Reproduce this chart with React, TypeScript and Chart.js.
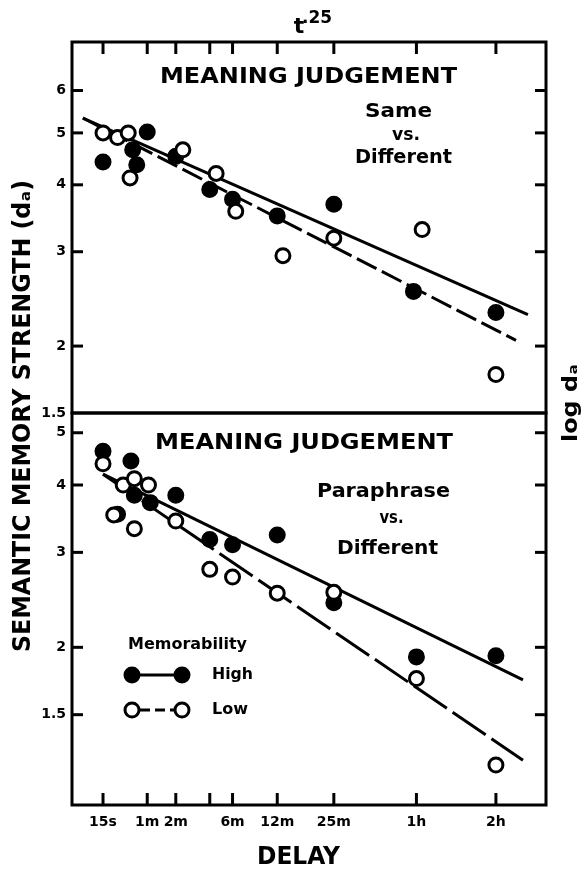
import React, { useEffect, useRef } from 'react';
import { Chart, LinearScale, registerables } from 'chart.js';

Chart.register(...registerables);

// x axis drawn on a t^0.25 scale (delay in seconds)
class FourthRootScale extends LinearScale {
  static id = 'fourthRoot';
  static defaults = {};
  getPixelForValue(value: number) {
    const a = Math.pow(this.min, 0.25);
    const b = Math.pow(this.max, 0.25);
    return this.getPixelForDecimal((Math.pow(value, 0.25) - a) / (b - a));
  }
  getValueForPixel(pixel: number) {
    const a = Math.pow(this.min, 0.25);
    const b = Math.pow(this.max, 0.25);
    return Math.pow(a + this.getDecimalForPixel(pixel) * (b - a), 4);
  }
}
Chart.register(FourthRootScale);

// ---------------- data ----------------
const xTickSeconds = [15, 60, 120, 240, 360, 720, 1500, 3600, 7200];
const xTickLabels = ['15s', '1m', '2m', '', '6m', '12m', '25m', '1h', '2h'];
const topYTicks = [1.5, 2, 3, 4, 5, 6];
const bottomYTicks = [1.5, 2, 3, 4, 5];

// Top panel: Same vs. Different
const sameHighDelay = [15, 40, 45, 60, 120, 240, 360, 720, 1500, 3500, 7200];
const sameHighDa = [4.41, 4.65, 4.36, 5.02, 4.52, 3.92, 3.76, 3.5, 3.68, 2.53, 2.31];
const sameLowDelay = [15, 25, 35, 37, 140, 270, 380, 780, 1500, 3800, 7200];
const sameLowDa = [5.0, 4.9, 5.0, 4.12, 4.65, 4.2, 3.57, 2.95, 3.18, 3.3, 1.77];
const sameHighFitDelay = [6.5, 9230];
const sameHighFitDa = [5.33, 2.29];
const sameLowFitDelay = [6.5, 8430];
const sameLowFitDa = [5.33, 2.05];

// Bottom panel: Paraphrase vs. Different
const paraHighDelay = [15, 38, 25, 42, 65, 120, 240, 360, 720, 1500, 3600, 7200];
const paraHighDa = [4.62, 4.43, 3.53, 3.83, 3.71, 3.83, 3.17, 3.1, 3.23, 2.42, 1.92, 1.93];
const paraLowDelay = [15, 22, 30, 42, 62, 42, 120, 240, 360, 720, 1500, 3600, 7200];
const paraLowDa = [4.38, 3.52, 4.0, 4.11, 4.0, 3.32, 3.43, 2.79, 2.7, 2.52, 2.53, 1.75, 1.21];
const paraHighFitDelay = [15, 8890];
const paraHighFitDa = [4.19, 1.74];
const paraLowFitDelay = [15, 8890];
const paraLowFitDa = [4.19, 1.235];

// axis ranges
const X_MIN = 3.8;
const X_MAX = 10550;
const TOP_Y_MIN = 1.5;
const TOP_Y_MAX = 7.39;
const BOT_Y_MIN = 1.02;
const BOT_Y_MAX = 5.44;

// ---------------- layout ----------------
const W = 584;
const H = 874;
const F_LEFT = 72;
const F_RIGHT = 546;
const F_TOP = 42;
const F_MID = 413;
const F_BOTTOM = 805;
const FONT = '"DejaVu Sans", "Liberation Sans", sans-serif';

function drawText(ctx: CanvasRenderingContext2D, text: string, cx: number, cy: number, size: number, width?: number, rot = 0) {
  ctx.save();
  ctx.font = `bold ${size}px ${FONT}`;
  ctx.fillStyle = '#000';
  ctx.textAlign = 'center';
  ctx.textBaseline = 'middle';
  ctx.translate(cx, cy);
  if (rot) ctx.rotate(rot);
  if (width) {
    const w = ctx.measureText(text).width;
    ctx.scale(width / w, 1);
  }
  ctx.fillText(text, 0, 0);
  ctx.restore();
}

function seg(ctx: CanvasRenderingContext2D, x1: number, y1: number, x2: number, y2: number) {
  ctx.beginPath();
  ctx.moveTo(x1, y1);
  ctx.lineTo(x2, y2);
  ctx.stroke();
}

const pts = (xs: number[], ys: number[]) => xs.map((x, i) => ({ x, y: ys[i] }));

function makeDatasets(hx: number[], hy: number[], lx: number[], ly: number[], hfx: number[], hfy: number[], lfx: number[], lfy: number[], dash: number[]) {
  return [
    {
      label: 'Low',
      data: pts(lx, ly),
      showLine: false,
      pointRadius: 7,
      pointBorderWidth: 3,
      borderColor: '#000',
      backgroundColor: '#fff',
      pointBackgroundColor: '#fff',
      order: 0,
    },
    {
      label: 'High',
      data: pts(hx, hy),
      showLine: false,
      pointRadius: 7,
      pointBorderWidth: 3,
      borderColor: '#000',
      backgroundColor: '#000',
      pointBackgroundColor: '#000',
      order: 1,
    },
    {
      label: 'High fit',
      data: pts(hfx, hfy),
      showLine: true,
      borderColor: '#000',
      borderWidth: 3,
      pointRadius: 0,
      tension: 0,
      order: 2,
    },
    {
      label: 'Low fit',
      data: pts(lfx, lfy),
      showLine: true,
      borderColor: '#000',
      borderWidth: 3,
      borderDash: dash,
      pointRadius: 0,
      tension: 0,
      order: 3,
    },
  ];
}

function yAxis(min: number, max: number, ticks: number[]) {
  return {
    type: 'logarithmic',
    position: 'left',
    min,
    max,
    afterBuildTicks: (axis: any) => {
      axis.ticks = ticks.map((v) => ({ value: v }));
    },
    afterFit: (s: any) => {
      s.width = F_LEFT;
    },
    grid: { display: false, drawTicks: false },
    border: { display: false },
    ticks: {
      padding: 6,
      color: '#000',
      autoSkip: false,
      font: { family: FONT, weight: 'bold', size: 14 },
      callback: (v: any) => String(v),
    },
  };
}

function frameAndTicks(chart: any, panel: 'top' | 'bottom') {
  const { ctx, chartArea, scales } = chart;
  const { left, right, top, bottom } = chartArea;
  ctx.save();
  ctx.strokeStyle = '#000';
  ctx.lineWidth = 3;
  ctx.lineCap = 'butt';
  ctx.strokeRect(left, top, right - left, bottom - top);
  const yt = panel === 'top' ? topYTicks.filter((v) => v > TOP_Y_MIN) : bottomYTicks;
  yt.forEach((v) => {
    const py = scales.y.getPixelForValue(v);
    seg(ctx, left, py, left + 11, py);
    seg(ctx, right - 11, py, right, py);
  });
  xTickSeconds.forEach((v) => {
    const px = scales.x.getPixelForValue(v);
    if (panel === 'top') seg(ctx, px, top, px, top + 12);
    else seg(ctx, px, bottom - 12, px, bottom);
  });
  ctx.restore();
}

const topDecor = {
  id: 'topDecor',
  afterDraw(chart: any) {
    const ctx = chart.ctx as CanvasRenderingContext2D;
    frameAndTicks(chart, 'top');
    drawText(ctx, 'MEANING JUDGEMENT', 308.5, 77, 22, 297);
    drawText(ctx, 'Same', 398.5, 112, 20, 67);
    drawText(ctx, 'vs.', 406, 135, 18, 28);
    drawText(ctx, 'Different', 403.5, 158, 20, 97);
    // t^.25 label above the plot
    drawText(ctx, 't', 299, 27, 22);
    ctx.save();
    ctx.font = `bold 17px ${FONT}`;
    ctx.textAlign = 'left';
    ctx.textBaseline = 'middle';
    ctx.fillStyle = '#000';
    ctx.fillText('.25', 302, 19);
    ctx.restore();
  },
};

const bottomDecor = {
  id: 'bottomDecor',
  afterDraw(chart: any) {
    const ctx = chart.ctx as CanvasRenderingContext2D;
    frameAndTicks(chart, 'bottom');
    drawText(ctx, 'MEANING JUDGEMENT', 304, 443, 22, 298);
    drawText(ctx, 'Paraphrase', 383.5, 492, 20, 133);
    drawText(ctx, 'vs.', 391.5, 518, 18, 24);
    drawText(ctx, 'Different', 387.5, 549, 20, 101);

    // legend
    drawText(ctx, 'Memorability', 187.5, 645, 16, 119);
    drawText(ctx, 'High', 232.5, 675, 16, 41);
    drawText(ctx, 'Low', 230, 710, 16, 36);
    ctx.save();
    ctx.strokeStyle = '#000';
    ctx.lineWidth = 3;
    seg(ctx, 132, 675, 182, 675);
    ctx.setLineDash([10, 5]);
    seg(ctx, 140, 710, 175, 710);
    ctx.setLineDash([]);
    [132, 182].forEach((cx) => {
      ctx.beginPath();
      ctx.arc(cx, 675, 7, 0, Math.PI * 2);
      ctx.fillStyle = '#000';
      ctx.fill();
      ctx.stroke();
      ctx.beginPath();
      ctx.arc(cx, 710, 7, 0, Math.PI * 2);
      ctx.fillStyle = '#fff';
      ctx.fill();
      ctx.stroke();
    });
    ctx.restore();

    // axis titles
    drawText(ctx, 'SEMANTIC MEMORY STRENGTH (dₐ)', 23, 416, 25, 472, -Math.PI / 2);
    drawText(ctx, 'log dₐ', 571, 403, 22, 78, -Math.PI / 2);
    drawText(ctx, 'DELAY', 298.5, 858, 24, 83);
  },
};

function topConfig(): any {
  return {
    type: 'scatter',
    data: {
      datasets: makeDatasets(sameHighDelay, sameHighDa, sameLowDelay, sameLowDa, sameHighFitDelay, sameHighFitDa, sameLowFitDelay, sameLowFitDa, [22, 6]),
    },
    options: {
      responsive: false,
      animation: false,
      devicePixelRatio: 1,
      layout: { padding: { top: F_TOP, right: W - F_RIGHT, bottom: H - F_MID, left: 0 } },
      plugins: { legend: { display: false }, tooltip: { enabled: false }, title: { display: false } },
      scales: {
        x: { type: 'fourthRoot', min: X_MIN, max: X_MAX, display: false },
        y: yAxis(TOP_Y_MIN, TOP_Y_MAX, topYTicks),
      },
    },
    plugins: [topDecor],
  };
}

function bottomConfig(): any {
  return {
    type: 'scatter',
    data: {
      datasets: makeDatasets(paraHighDelay, paraHighDa, paraLowDelay, paraLowDa, paraHighFitDelay, paraHighFitDa, paraLowFitDelay, paraLowFitDa, [40, 7]),
    },
    options: {
      responsive: false,
      animation: false,
      devicePixelRatio: 1,
      layout: { padding: { top: F_MID, right: W - F_RIGHT, bottom: 0, left: 0 } },
      plugins: { legend: { display: false }, tooltip: { enabled: false }, title: { display: false } },
      scales: {
        x: {
          type: 'fourthRoot',
          position: 'bottom',
          min: X_MIN,
          max: X_MAX,
          afterBuildTicks: (axis: any) => {
            axis.ticks = xTickSeconds.map((v) => ({ value: v }));
          },
          afterFit: (s: any) => {
            s.height = H - F_BOTTOM;
          },
          grid: { display: false, drawTicks: false },
          border: { display: false },
          ticks: {
            padding: 9,
            color: '#000',
            autoSkip: false,
            maxRotation: 0,
            minRotation: 0,
            font: { family: FONT, weight: 'bold', size: 14 },
            callback: (_v: any, i: number) => xTickLabels[i] ?? '',
          },
        },
        y: yAxis(BOT_Y_MIN, BOT_Y_MAX, bottomYTicks),
      },
    },
    plugins: [bottomDecor],
  };
}

export default function App() {
  const topRef = useRef<HTMLCanvasElement>(null);
  const botRef = useRef<HTMLCanvasElement>(null);

  useEffect(() => {
    const charts: Chart[] = [];
    if (topRef.current) charts.push(new Chart(topRef.current, topConfig()));
    if (botRef.current) charts.push(new Chart(botRef.current, bottomConfig()));
    return () => charts.forEach((c) => c.destroy());
  }, []);

  return (
    <div style={{ position: 'absolute', left: 0, top: 0, width: W, height: H, background: '#fff', overflow: 'hidden' }}>
      <canvas ref={topRef} width={W} height={H} style={{ position: 'absolute', left: 0, top: 0 }} />
      <canvas ref={botRef} width={W} height={H} style={{ position: 'absolute', left: 0, top: 0 }} />
    </div>
  );
}
